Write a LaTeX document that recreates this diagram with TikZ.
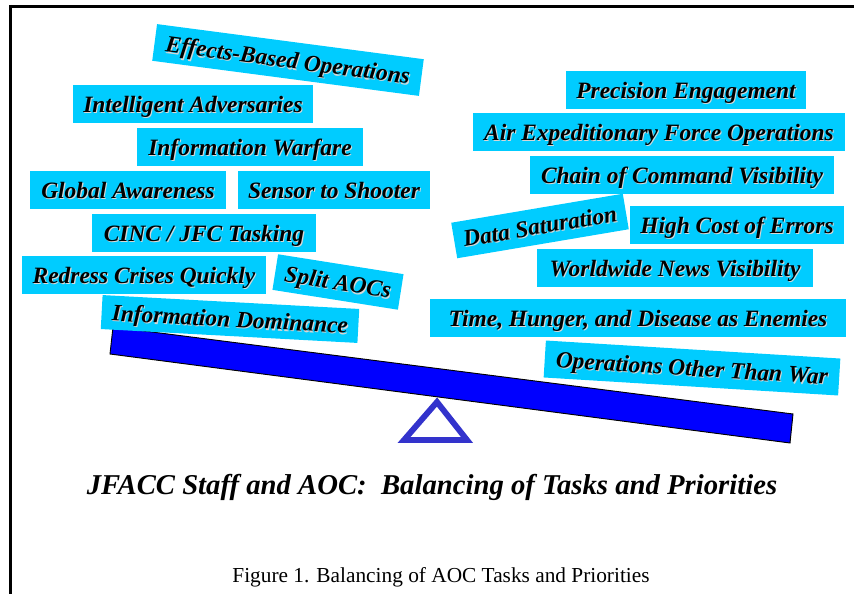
\documentclass[tikz,border=0pt]{standalone}
\usepackage{fontspec}
\setmainfont{Liberation Serif}

\definecolor{taskcyan}{RGB}{0,204,255}
\definecolor{beamblue}{RGB}{0,0,255}
\definecolor{pivotblue}{RGB}{51,51,204}
\definecolor{shadowgray}{RGB}{215,215,215}

% text with a small drop shadow, as on the task labels
\newcommand{\shadowed}[1]{\makebox[0pt][l]{\hspace{0.9pt}\raisebox{-0.9pt}{\textcolor{shadowgray}{#1}}}#1}

\tikzset{
    task/.style={fill=taskcyan, inner sep=0pt, minimum height=1.14cm,
        text height=13.8pt, text depth=0pt,
        font=\bfseries\itshape\fontsize{20}{24}\selectfont},
    beam/.style={fill=beamblue, draw=black, line width=0.8pt},
    pivot/.style={draw=pivotblue, line width=5pt, line join=miter},
}

\begin{document}
\begin{tikzpicture}[x=0.03cm, y=-0.03cm]
                \useasboundingbox (0,0) rectangle (854,594);

                % frame
                \draw[line width=3.4pt] (9,6.5) -- (854,6.5);
                \draw[line width=2.6pt] (10.5,5) -- (10.5,594);

                % the see-saw
                \draw[pivot] (437,402) -- (467,440) -- (404,440) -- cycle;
                \draw[beam] (113,327) -- (793,414) -- (790,443) -- (110,354) -- cycle;

                % left side
                \node[task, minimum width=8.07cm, minimum height=1.11cm, rotate=-7.5] (ebo) at (288,60) {\shadowed{Effects-Based Operations}};
                \node[task, minimum width=7.2cm] (intadv) at (193,104) {\shadowed{Intelligent Adversaries}};
                \node[task, minimum width=6.75cm] (infowar) at (250,147) {\shadowed{Information Warfare}};
                \node[task, minimum width=5.88cm] (global) at (128,190) {\shadowed{Global Awareness}};
                \node[task, minimum width=5.76cm] (sensor) at (334,190) {\shadowed{Sensor to Shooter}};
                \node[task, minimum width=6.69cm] (cinc) at (204,233) {\shadowed{CINC / JFC Tasking}};
                \node[task, minimum width=7.29cm] (redress) at (144,275) {\shadowed{Redress Crises Quickly}};
                \node[task, minimum width=3.81cm, minimum height=1.08cm, rotate=-9] (split) at (338,282) {\shadowed{Split AOCs}};
                \node[task, minimum width=7.71cm, minimum height=1.02cm, rotate=-3.1] (infodom) at (230,319) {\shadowed{Information Dominance}};

                % right side
                \node[task, minimum width=7.2cm] (precision) at (686,90) {\shadowed{Precision Engagement}};
                \node[task, minimum width=11.16cm] (aef) at (659,132) {\shadowed{Air Expeditionary Force Operations}};
                \node[task, minimum width=9.12cm] (chain) at (682,175) {\shadowed{Chain of Command Visibility}};
                \node[task, minimum width=5.22cm, minimum height=1.08cm, rotate=9.6] (datasat) at (540,226) {\shadowed{Data Saturation}};
                \node[task, minimum width=6.42cm] (highcost) at (737,225) {\shadowed{High Cost of Errors}};
                \node[task, minimum width=8.25cm] (news) at (675,268) {\shadowed{Worldwide News Visibility}};
                \node[task, minimum width=12.48cm] (enemies) at (638,318) {\shadowed{Time, Hunger, and Disease as Enemies}};
                \node[task, minimum width=8.85cm, minimum height=1.11cm, rotate=-3.5] (ootw) at (692,368) {\shadowed{Operations Other Than War}};

                % titles
                \node[font=\bfseries\itshape\fontsize{24.5}{28}\selectfont] (title) at (432,487) {JFACC Staff and AOC:\ \ Balancing of Tasks and Priorities};
                \node[font=\fontsize{18.2}{21}\selectfont] (caption) at (441,577) {Figure 1. Balancing of AOC Tasks and Priorities};
            \end{tikzpicture}
\end{document}
